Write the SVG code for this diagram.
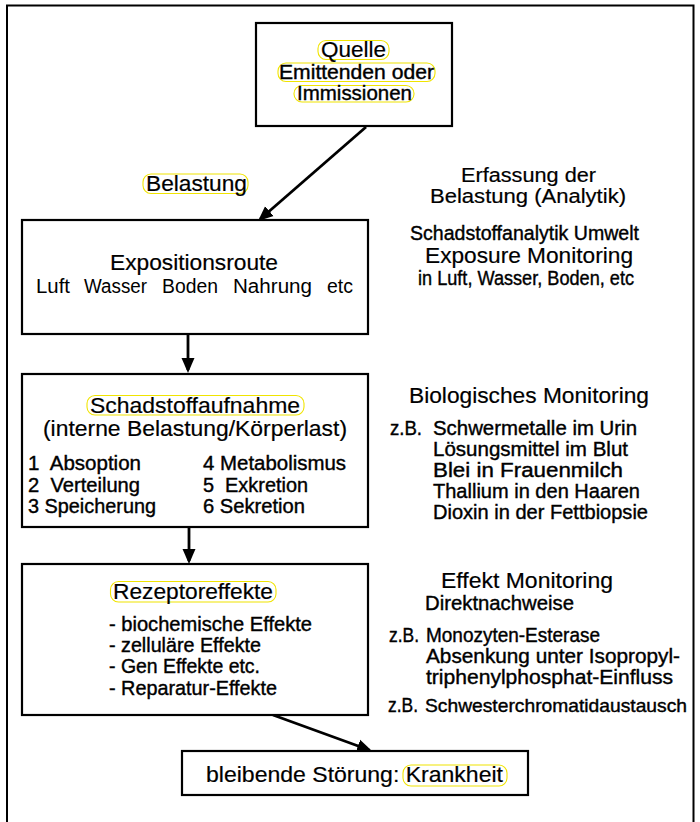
<svg xmlns="http://www.w3.org/2000/svg" width="700" height="822" viewBox="0 0 700 822">
<defs>
<style>
text{font-family:"Liberation Sans",Arial,sans-serif;fill:#000}
.h{font-size:22px;stroke:#000;stroke-width:0.2px}
.h2{font-size:20.5px;stroke:#000;stroke-width:0.2px}
.b{font-size:20.5px}
.sb{stroke:#000;stroke-width:0.4px}
.box{fill:#fff;stroke:#000;stroke-width:2.2}
.hl{fill:none;stroke:#f0e400;stroke-width:1.1}
.conn{stroke:#000;stroke-width:2.8;fill:none}
</style>
<marker id="ah" markerUnits="userSpaceOnUse" markerWidth="16" markerHeight="14" refX="12" refY="7" orient="auto">
<path d="M0,0.5 L15,7 L0,13.5 z" fill="#000"/>
</marker>
</defs>
<rect width="700" height="822" fill="#fff"/>
<path d="M7,830 V5.5 H693.5 V830" fill="none" stroke="#000" stroke-width="2"/>

<g id="connectors">
<line class="conn" x1="366" y1="127" x2="260.3" y2="219" marker-end="url(#ah)"/>
<line class="conn" x1="188" y1="334" x2="188" y2="370" marker-end="url(#ah)"/>
<line class="conn" x1="189" y1="527" x2="189" y2="561" marker-end="url(#ah)"/>
<line class="conn" x1="273" y1="715" x2="369.2" y2="750" marker-end="url(#ah)"/>
</g>

<g id="quelle">
<rect class="box" x="256" y="23" width="196" height="103"/>
<rect class="hl" x="318" y="40.5" width="71" height="19" rx="8"/>
<rect class="hl" x="278" y="63" width="157" height="18.5" rx="8"/>
<rect class="hl" x="294" y="85.5" width="120" height="16.5" rx="8"/>
<text class="h" x="321" y="57" textLength="65" lengthAdjust="spacingAndGlyphs">Quelle</text>
<text class="b sb" x="279" y="79" textLength="155" lengthAdjust="spacingAndGlyphs">Emittenden oder</text>
<text class="b sb" x="297" y="100" textLength="115" lengthAdjust="spacingAndGlyphs">Immissionen</text>
</g>

<g id="belastung">
<rect class="hl" x="143" y="174" width="105" height="19.5" rx="8"/>
<text class="h" x="146" y="191" textLength="101" lengthAdjust="spacingAndGlyphs">Belastung</text>
</g>

<g id="expositionsroute">
<rect class="box" x="22" y="220" width="346" height="114"/>
<text class="h" x="110" y="270" textLength="168" lengthAdjust="spacingAndGlyphs">Expositionsroute</text>
<text style="font-size:20px"><tspan x="36" y="293" textLength="34" lengthAdjust="spacingAndGlyphs">Luft</tspan> <tspan x="84" y="293" textLength="63" lengthAdjust="spacingAndGlyphs">Wasser</tspan> <tspan x="162" y="293" textLength="56" lengthAdjust="spacingAndGlyphs">Boden</tspan> <tspan x="233" y="293" textLength="79" lengthAdjust="spacingAndGlyphs">Nahrung</tspan> <tspan x="327" y="293" textLength="26" lengthAdjust="spacingAndGlyphs">etc</tspan></text>
</g>

<g id="schadstoffaufnahme">
<rect class="box" x="22" y="374" width="346" height="153"/>
<rect class="hl" x="87" y="395.5" width="217" height="19.5" rx="8"/>
<text class="h" x="90" y="413" textLength="210" lengthAdjust="spacingAndGlyphs">Schadstoffaufnahme</text>
<text class="h" x="43" y="436" textLength="304" lengthAdjust="spacingAndGlyphs">(interne Belastung/Körperlast)</text>
<text class="b sb" x="28" y="470" textLength="113" lengthAdjust="spacingAndGlyphs" style="white-space:pre">1  Absoption</text>
<text class="b sb" x="28" y="491.5" textLength="112" lengthAdjust="spacingAndGlyphs" style="white-space:pre">2  Verteilung</text>
<text class="b sb" x="28" y="513" textLength="128" lengthAdjust="spacingAndGlyphs">3 Speicherung</text>
<text class="b sb" x="203" y="470" textLength="143" lengthAdjust="spacingAndGlyphs">4 Metabolismus</text>
<text class="b sb" x="203" y="491.5" textLength="105" lengthAdjust="spacingAndGlyphs" style="white-space:pre">5  Exkretion</text>
<text class="b sb" x="203" y="513" textLength="102" lengthAdjust="spacingAndGlyphs">6 Sekretion</text>
</g>

<g id="rezeptoreffekte">
<rect class="box" x="22" y="564" width="346" height="151"/>
<rect class="hl" x="110.5" y="581.5" width="165.5" height="20.5" rx="8"/>
<text class="h" x="113" y="599" textLength="160" lengthAdjust="spacingAndGlyphs">Rezeptoreffekte</text>
<text class="b sb" x="109" y="631" textLength="203" lengthAdjust="spacingAndGlyphs">- biochemische Effekte</text>
<text class="b sb" x="109" y="652" textLength="152" lengthAdjust="spacingAndGlyphs">- zelluläre Effekte</text>
<text class="b sb" x="109" y="673" textLength="151" lengthAdjust="spacingAndGlyphs">- Gen Effekte etc.</text>
<text class="b sb" x="109" y="695" textLength="168" lengthAdjust="spacingAndGlyphs">- Reparatur-Effekte</text>
</g>

<g id="krankheit">
<rect class="box" x="182" y="751" width="346" height="44"/>
<rect class="hl" x="403" y="765" width="104" height="21" rx="8"/>
<text class="h" x="206" y="782" textLength="297" lengthAdjust="spacingAndGlyphs">bleibende Störung: Krankheit</text>
</g>

<g id="erfassung">
<text class="h2" x="461" y="182" textLength="135" lengthAdjust="spacingAndGlyphs">Erfassung der</text>
<text class="h2" x="430" y="203" textLength="196" lengthAdjust="spacingAndGlyphs">Belastung (Analytik)</text>
<text class="b sb" x="410" y="240" textLength="229" lengthAdjust="spacingAndGlyphs">Schadstoffanalytik Umwelt</text>
<text class="h" x="425" y="263" textLength="208" lengthAdjust="spacingAndGlyphs">Exposure Monitoring</text>
<text class="b sb" x="418" y="285" textLength="216" lengthAdjust="spacingAndGlyphs">in Luft, Wasser, Boden, etc</text>
</g>

<g id="biomonitoring">
<text class="h" x="409" y="403" textLength="240" lengthAdjust="spacingAndGlyphs">Biologisches Monitoring</text>
<text class="b sb" x="390" y="435" textLength="32" lengthAdjust="spacingAndGlyphs">z.B.</text>
<text class="b sb" x="433" y="435" textLength="204" lengthAdjust="spacingAndGlyphs">Schwermetalle im Urin</text>
<text class="b sb" x="433" y="456" textLength="195" lengthAdjust="spacingAndGlyphs">Lösungsmittel im Blut</text>
<text class="b sb" x="433" y="477" textLength="190" lengthAdjust="spacingAndGlyphs">Blei in Frauenmilch</text>
<text class="b sb" x="433" y="498" textLength="207" lengthAdjust="spacingAndGlyphs">Thallium in den Haaren</text>
<text class="b sb" x="433" y="519" textLength="215" lengthAdjust="spacingAndGlyphs">Dioxin in der Fettbiopsie</text>
</g>

<g id="effektmonitoring">
<text class="h" x="441" y="588" textLength="172" lengthAdjust="spacingAndGlyphs">Effekt Monitoring</text>
<text class="b sb" x="425" y="610" textLength="149" lengthAdjust="spacingAndGlyphs">Direktnachweise</text>
<text class="b sb" x="389" y="642" textLength="30" lengthAdjust="spacingAndGlyphs">z.B.</text>
<text class="b sb" x="426" y="642" textLength="174" lengthAdjust="spacingAndGlyphs">Monozyten-Esterase</text>
<text class="b sb" x="426" y="663" textLength="254" lengthAdjust="spacingAndGlyphs">Absenkung unter Isopropyl-</text>
<text class="b sb" x="426" y="684" textLength="247" lengthAdjust="spacingAndGlyphs">triphenylphosphat-Einfluss</text>
<text class="b sb" x="388" y="712" textLength="30" lengthAdjust="spacingAndGlyphs">z.B.</text>
<text class="b sb" x="425" y="712" textLength="262" lengthAdjust="spacingAndGlyphs" style="font-size:19px">Schwesterchromatidaustausch</text>
</g>
</svg>
